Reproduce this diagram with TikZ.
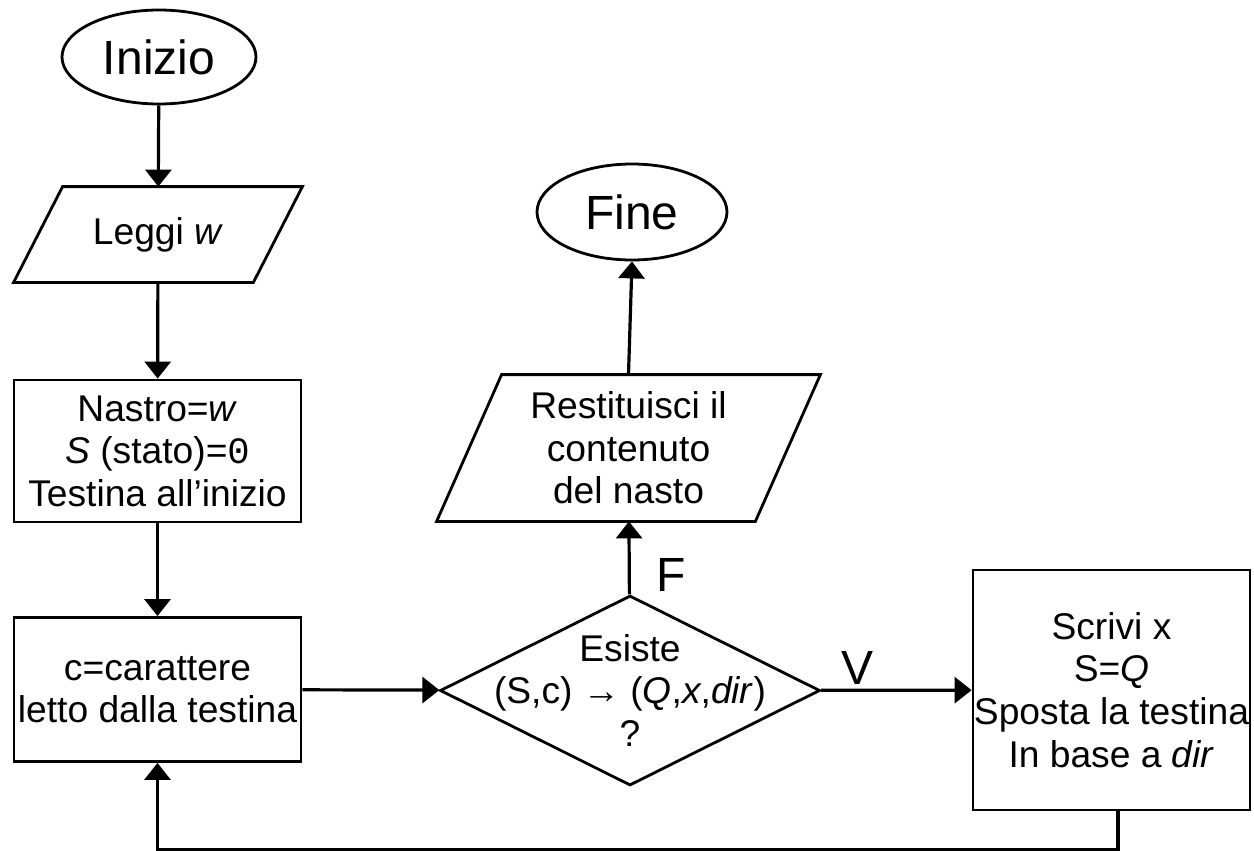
\documentclass[tikz,border=0pt]{standalone}
\usepackage{fontspec}
\setmainfont{Liberation Sans}
\setmonofont{Liberation Mono}
\usetikzlibrary{arrows.meta,shapes.geometric}

\begin{document}
\begin{tikzpicture}[x=0.5pt,y=-0.5pt]
                \tikzset{
                  line/.style={line width=1.6pt,-{Triangle[width=13pt,length=8.5pt]}},
                  box/.style={line width=1.4pt,line join=miter},
                  txt/.style={font=\fontsize{18.6}{21.3}\selectfont,align=center,inner sep=0pt},
                  term/.style={ellipse,draw,box,inner sep=0pt,font=\fontsize{24}{28}\selectfont},
                  io/.style={rectangle,txt},
                  proc/.style={rectangle,draw,box,txt},
                  decision/.style={diamond,draw,box,inner sep=0pt},
                  lab/.style={font=\fontsize{24}{28}\selectfont,inner sep=0pt}
                }
                \useasboundingbox (0,0) rectangle (1254,851);

                \node[term,minimum width=97pt,minimum height=47pt] (inizio) at (159,57) {Inizio};
                \node[io,minimum width=144pt,minimum height=47.5pt] (leggi) at (158,234.5) {Leggi \textit{w}};
                \draw[box] ([xshift=24.5pt]leggi.north west) -- (leggi.north east)
                      -- ([xshift=-24.5pt]leggi.south east) -- (leggi.south west) -- cycle;
                \node[proc,minimum width=143.5pt,minimum height=71pt] (nastro) at (157.5,451)
                      {Nastro=\textit{w}\\ \textit{S} (stato)=\texttt{0}\\ Testina all’inizio};
                \node[proc,minimum width=143.5pt,minimum height=72pt] (car) at (157.5,689.5)
                      {c=carattere\\ letto dalla testina};
                \node[decision,minimum width=190pt,minimum height=95pt,
                      label={[txt]center:Esiste\\ (S,c) → (\textit{Q},\textit{x},\textit{dir})\\ ?}] (esiste) at (630,690.5) {};
                \node[proc,minimum width=138.5pt,minimum height=120pt] (scrivi) at (1111.5,690)
                      {Scrivi x\\ S=\textit{Q}\\ Sposta la testina\\ In base a \textit{dir}};
                \node[io,minimum width=191.5pt,minimum height=73pt] (rest) at (628.5,448)
                      {Restituisci il\\ contenuto\\ del nasto};
                \draw[box] ([xshift=32.5pt]rest.north west) -- (rest.north east)
                      -- ([xshift=-32.5pt]rest.south east) -- (rest.south west) -- cycle;
                \node[term,minimum width=95pt,minimum height=48pt] (fine) at (632,212) {Fine};

                \draw[line] (inizio) -- (leggi);
                \draw[line] (leggi) -- (nastro);
                \draw[line] (nastro) -- (car);
                \draw[line] (car) -- (esiste);
                \draw[line] (esiste) -- node[lab,pos=0.24,anchor=south,yshift=2pt] {V} (scrivi);
                \draw[line] (esiste) -- node[lab,pos=0.27,anchor=west,xshift=13pt] {F} (rest);
                \draw[line] (rest.north) -- (fine.south);
                \draw[line] ([xshift=3.25pt]scrivi.south) -- ++(0,38) -| (car.south);

                \end{tikzpicture}
\end{document}
